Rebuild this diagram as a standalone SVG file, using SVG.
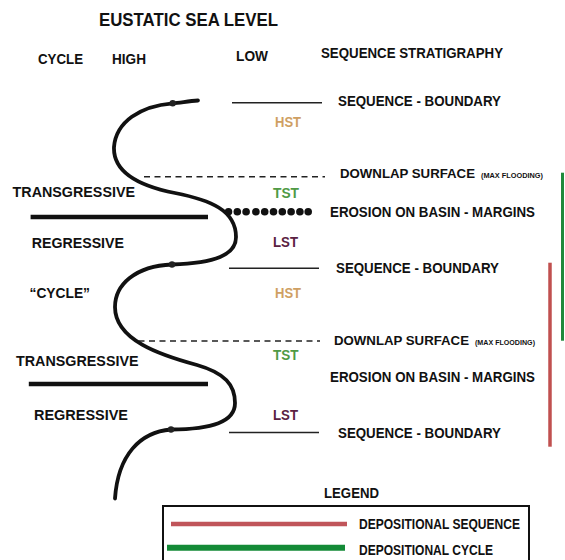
<svg xmlns="http://www.w3.org/2000/svg" width="565" height="560" viewBox="0 0 565 560">
<style>
text { font-family: "Liberation Sans", Arial, sans-serif; font-weight: bold; fill: #111; }
.t15 { font-size: 15px; }
.dls { font-size: 13.6px; }
.st { font-size: 14px; }
.small { font-size: 7.5px; }
.hst { fill: #cf9f63; }
.tst { fill: #4f9a45; }
.lst { fill: #5a2142; }
.sb { stroke: #222; stroke-width: 1.5; }
.dl { stroke: #222; stroke-width: 1.5; stroke-dasharray: 6 4.5; }
.thick { stroke: #111; stroke-width: 4.5; }
.curve { fill: none; stroke: #111; stroke-width: 3.8; stroke-linecap: round; stroke-linejoin: round; }
.knot { fill: #222; }
.ero { fill: #111; }
</style>
<rect width="565" height="560" fill="#fff"/>

<g id="headers">
  <text x="99" y="26" style="font-size:17.5px" textLength="179" lengthAdjust="spacingAndGlyphs">EUSTATIC SEA LEVEL</text>
  <text class="t15" x="38" y="63.5" textLength="45" lengthAdjust="spacingAndGlyphs">CYCLE</text>
  <text class="t15" x="112" y="63.5" textLength="34" lengthAdjust="spacingAndGlyphs">HIGH</text>
  <text class="t15" x="236" y="61" textLength="32" lengthAdjust="spacingAndGlyphs">LOW</text>
  <text class="t15" x="321" y="57.5" textLength="182" lengthAdjust="spacingAndGlyphs">SEQUENCE STRATIGRAPHY</text>
</g>

<g id="cycle-labels">
  <text class="t15" x="12.6" y="196.7" textLength="122.4" lengthAdjust="spacingAndGlyphs">TRANSGRESSIVE</text>
  <text class="t15" x="31.7" y="248.3" textLength="92.3" lengthAdjust="spacingAndGlyphs">REGRESSIVE</text>
  <text class="t15" x="29.5" y="298.3" textLength="60.5" lengthAdjust="spacingAndGlyphs">“CYCLE”</text>
  <text class="t15" x="16" y="366" textLength="122.5" lengthAdjust="spacingAndGlyphs">TRANSGRESSIVE</text>
  <text class="t15" x="34" y="420" textLength="94" lengthAdjust="spacingAndGlyphs">REGRESSIVE</text>
</g>

<g id="systems-tracts">
  <text class="st hst" x="275" y="126.5" textLength="26" lengthAdjust="spacingAndGlyphs">HST</text>
  <text class="st tst" x="273" y="198.3" textLength="26" lengthAdjust="spacingAndGlyphs">TST</text>
  <text class="st lst" x="273" y="247.3" textLength="25" lengthAdjust="spacingAndGlyphs">LST</text>
  <text class="st hst" x="275" y="298.3" textLength="26" lengthAdjust="spacingAndGlyphs">HST</text>
  <text class="st tst" x="273" y="360" textLength="25.5" lengthAdjust="spacingAndGlyphs">TST</text>
  <text class="st lst" x="273" y="420" textLength="25" lengthAdjust="spacingAndGlyphs">LST</text>
</g>

<g id="surface-labels">
  <text class="t15" x="338" y="106" textLength="163" lengthAdjust="spacingAndGlyphs">SEQUENCE - BOUNDARY</text>
  <text class="dls" x="340" y="178.3" textLength="135" lengthAdjust="spacingAndGlyphs">DOWNLAP SURFACE</text>
  <text class="small" x="481" y="177.5" textLength="62" lengthAdjust="spacingAndGlyphs">(MAX FLOODING)</text>
  <text class="t15" x="330" y="217.3" textLength="205" lengthAdjust="spacingAndGlyphs">EROSION ON BASIN - MARGINS</text>
  <text class="t15" x="336" y="272.7" textLength="163" lengthAdjust="spacingAndGlyphs">SEQUENCE - BOUNDARY</text>
  <text class="dls" x="334" y="345" textLength="135" lengthAdjust="spacingAndGlyphs">DOWNLAP SURFACE</text>
  <text class="small" x="475" y="344.5" textLength="60" lengthAdjust="spacingAndGlyphs">(MAX FLOODING)</text>
  <text class="t15" x="330" y="381.7" textLength="205" lengthAdjust="spacingAndGlyphs">EROSION ON BASIN - MARGINS</text>
  <text class="t15" x="338" y="438.3" textLength="163" lengthAdjust="spacingAndGlyphs">SEQUENCE - BOUNDARY</text>
</g>

<g id="connectors">
  <line class="sb" x1="232" y1="102.7" x2="322" y2="102.7"/>
  <line class="sb" x1="229" y1="268.3" x2="319" y2="268.3"/>
  <line class="sb" x1="229" y1="432.5" x2="319" y2="432.5"/>
  <line class="dl" x1="144" y1="176.7" x2="325" y2="176.7"/>
  <line class="dl" x1="138.5" y1="341" x2="320" y2="341"/>
  <line class="thick" x1="30.6" y1="217" x2="208" y2="217"/>
  <line class="thick" x1="28.8" y1="384" x2="208" y2="384"/>
  <line x1="562.5" y1="172.7" x2="562.5" y2="340.7" stroke="#1f8a3b" stroke-width="3"/>
  <line x1="550" y1="262.7" x2="550" y2="446.7" stroke="#c0504f" stroke-width="3.5"/>
</g>

<g id="erosion-dots" class="ero">
  <circle cx="228.5" cy="211.7" r="3.8"/>
  <circle cx="237.3" cy="211.7" r="3.8"/>
  <circle cx="246.1" cy="211.7" r="3.8"/>
  <circle cx="255.9" cy="211.7" r="3.8"/>
  <circle cx="264.7" cy="211.7" r="3.8"/>
  <circle cx="273.5" cy="211.7" r="3.8"/>
  <circle cx="282.3" cy="211.7" r="3.8"/>
  <circle cx="291.1" cy="211.7" r="3.8"/>
  <circle cx="299.9" cy="211.7" r="3.8"/>
  <circle cx="308.2" cy="211.7" r="3.8"/>
</g>

<g id="sea-level-curve">
  <path class="curve" d="M198,100.5 C188,101 180,103 172.7,103.3 C140,106 116,122 114,147 C113,172 140,186 175,193 C210,200 236,210 236,237 C236,255 215,263 172,264.5 C135,266 115,285 115,307 C115,340 160,355 197,365 C225,373 235,385 235,403 C235,422 212,429 171,429.5 C140,432 118,455 115,498.5"/>
  <circle class="knot" cx="172.7" cy="103.3" r="3.2"/>
  <circle class="knot" cx="172" cy="264.5" r="3.2"/>
  <circle class="knot" cx="171" cy="429.5" r="3.2"/>
</g>

<g id="legend">
  <text class="t15" x="324" y="498.3" textLength="55" lengthAdjust="spacingAndGlyphs">LEGEND</text>
  <rect x="163" y="506" width="366" height="62" fill="none" stroke="#111" stroke-width="2"/>
  <line x1="171" y1="524" x2="347" y2="524" stroke="#c0555a" stroke-width="4.5"/>
  <line x1="167" y1="547.7" x2="345" y2="547.7" stroke="#138a36" stroke-width="6"/>
  <text class="t15" x="359" y="529" textLength="161" lengthAdjust="spacingAndGlyphs">DEPOSITIONAL SEQUENCE</text>
  <text class="t15" x="359" y="555" textLength="134" lengthAdjust="spacingAndGlyphs">DEPOSITIONAL CYCLE</text>
</g>
</svg>
